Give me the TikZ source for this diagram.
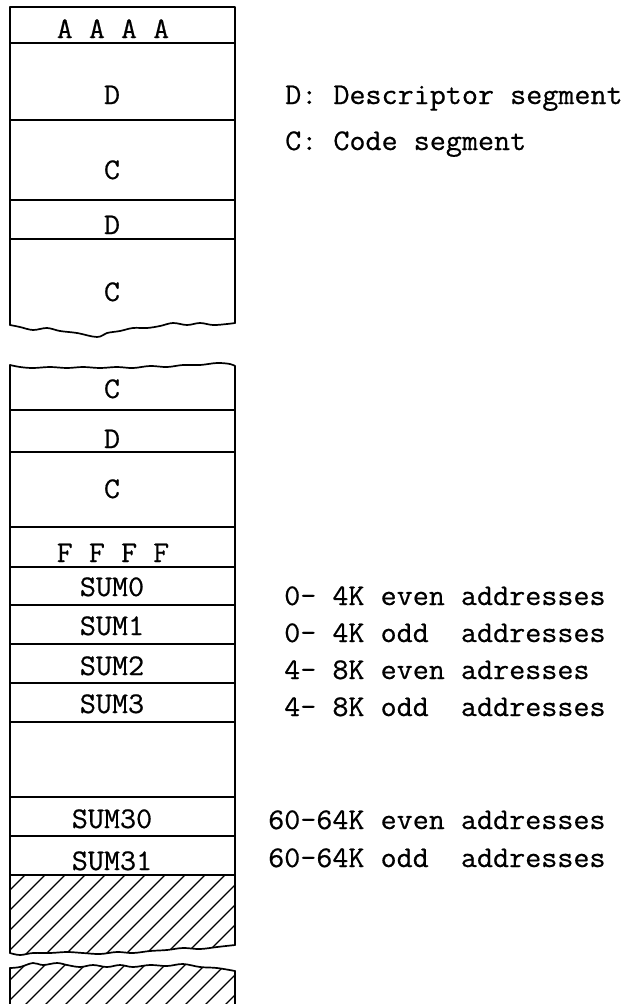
\documentclass[tikz,border=0pt]{standalone}
\usepackage{fontspec}
\setmonofont{Latin Modern Mono}[FakeStretch=1.04,FakeBold=0.6]
\begin{document}
\begin{tikzpicture}[x=1pt,y=-1pt,line join=round,line cap=round,
  frame/.style={line width=1.7pt},
  rule/.style={line width=1.5pt},
  hatch/.style={line width=1.1pt},
  cell/.style={font=\ttfamily\fontsize{30}{30}\selectfont,anchor=base,inner sep=0pt},
  note/.style={font=\ttfamily\fontsize{30}{30}\selectfont,anchor=base west,inner sep=0pt}]
\useasboundingbox (0,0) rectangle (635,1004);

% ---- upper part of the memory map ----
\draw[frame] (10,325) -- (10,7) -- (235,7) -- (235,323);
\draw[frame] plot[smooth,tension=0.6] coordinates {(10,325) (20,327) (33,330) (47,328) (60,331) (77,333) (97,337) (107,333) (120,331) (133,328) (147,328) (160,326) (173,323) (187,325) (200,323) (213,325) (227,324) (235,323)};
\foreach \y in {43,120,200,239} \draw[rule] (10,\y) -- (235,\y);

% ---- lower part of the memory map ----
\draw[frame] plot[smooth,tension=0.6] coordinates {(10,365) (20,367) (33,368) (50,367) (67,368) (83,367) (100,368) (117,367) (133,368) (150,366) (167,367) (183,365) (200,365) (217,363) (230,364) (235,366)};
\draw[frame] (10,365) -- (10,953);
\draw[frame] (235,366) -- (235,945);
\foreach \y in {410,452,527,567,605,644,683,722,797,836,875} \draw[rule] (10,\y) -- (235,\y);
\draw[frame] plot[smooth,tension=0.6] coordinates {(10,953) (20,955) (33,953) (50,953) (67,952) (83,953) (100,954) (117,952) (133,953) (150,951) (167,950) (183,948) (200,949) (217,947) (235,945)};

% hatched (unused) area
\begin{scope}
  \clip (10,875) -- (235,875) -- (235,945) -- (217,947) -- (200,949) -- (183,948) -- (167,950) -- (150,951) -- (133,953) -- (117,952) -- (100,954) -- (83,953) -- (67,952) -- (50,953) -- (33,953) -- (20,955) -- (10,953) -- cycle;
  \foreach \i in {-8,...,14} \draw[hatch] (\i*20,1000) -- ++(150,-150);
\end{scope}

% ---- continuation below the break ----
\draw[frame] plot[smooth,tension=0.6] coordinates {(10,968) (20,967) (33,963) (43,965) (57,963) (67,965) (80,967) (93,965) (107,967) (120,965) (133,967) (150,965) (167,966) (183,964) (200,967) (217,968) (235,971)};
\draw[frame] (10,968) -- (10,1010);
\draw[frame] (235,971) -- (235,1010);
\begin{scope}
  \clip (10,968) -- (20,967) -- (33,963) -- (43,965) -- (57,963) -- (67,965) -- (80,967) -- (93,965) -- (107,967) -- (120,965) -- (133,967) -- (150,965) -- (167,966) -- (183,964) -- (200,967) -- (217,968) -- (235,971) -- (235,1010) -- (10,1010) -- cycle;
  \foreach \i in {-8,...,14} \draw[hatch] (\i*20+10,1100) -- ++(150,-150);
\end{scope}

% ---- segment names ----
\node[cell] (aaaa) at (113,38) {A A A A};
\node[cell] (d1) at (112,104) {D};
\node[cell] (c1) at (112,179) {C};
\node[cell] (d2) at (112,234) {D};
\node[cell] (c2) at (112,301) {C};
\node[cell] (c3) at (112,398) {C};
\node[cell] (d3) at (112,448) {D};
\node[cell] (c4) at (112,498) {C};
\node[cell] (ffff) at (113,562) {F F F F};
\node[cell] (sum0) at (112,596) {SUM0};
\node[cell] (sum1) at (112,635) {SUM1};
\node[cell] (sum2) at (112,675) {SUM2};
\node[cell] (sum3) at (112,713) {SUM3};
\node[cell] (sum30) at (112,828) {SUM30};
\node[cell] (sum31) at (112,870) {SUM31};

% ---- legend ----
\node[note] (legd) at (285,104) {D: Descriptor segment};
\node[note] (legc) at (285,150) {C: Code segment};

% ---- address ranges ----
\node[note] (r0) at (268,605) {\hphantom{6}0- 4K even addresses};
\node[note] (r1) at (268,642) {\hphantom{6}0- 4K odd~~addresses};
\node[note] (r2) at (268,679) {\hphantom{6}4- 8K even adresses};
\node[note] (r3) at (268,716) {\hphantom{6}4- 8K odd~~addresses};
\node[note] (r30) at (268,829) {60-64K even addresses};
\node[note] (r31) at (268,867) {60-64K odd~~addresses};
\end{tikzpicture}
\end{document}
